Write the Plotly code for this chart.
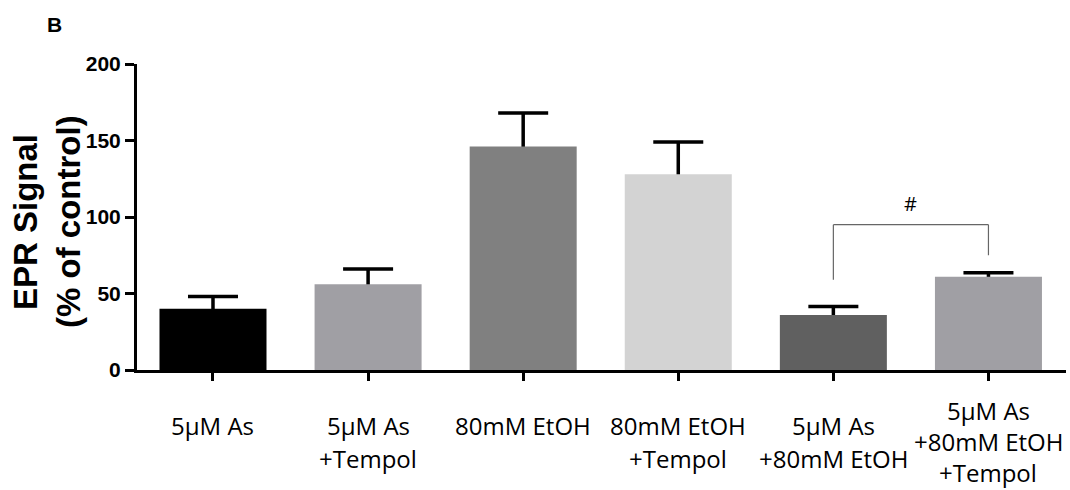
import plotly.graph_objects as go

categories = ["5µM As", "5µM As<br>+Tempol", "80mM EtOH", "80mM EtOH<br>+Tempol",
              "5µM As<br>+80mM EtOH", "5µM As<br>+80mM EtOH<br>+Tempol"]
values = [40, 56, 146, 128, 36, 61]
errors = [8, 10, 22, 21, 5.5, 2.5]
colors = ["#000000", "#a09fa4", "#808080", "#d3d3d3", "#606060", "#a09fa4"]
y_ticks = [0, 50, 100, 150, 200]

# significance bracket between groups 5 and 6
bracket_pair = (4, 5)
bracket_y = [59, 95, 75]  # left bottom, top, right bottom
bracket_label = "#"

x = list(range(len(categories)))
hide = 3  # start error stems slightly inside the bar so the lower cap is hidden

fig = go.Figure()
# error bars (upward only) on a transparent bar trace drawn beneath the visible bars
fig.add_trace(go.Bar(
    x=x, y=[v - hide for v in values], width=0.69,
    marker=dict(color="rgba(0,0,0,0)", line=dict(width=0)),
    error_y=dict(type="data", array=[e + hide for e in errors], arrayminus=[0] * len(errors),
                 symmetric=False, color="black", thickness=3.5, width=25),
    showlegend=False, hoverinfo="skip",
))
fig.add_trace(go.Bar(
    x=x, y=values, width=0.69,
    marker=dict(color=colors, line=dict(width=0)),
    showlegend=False,
))

# bracket
xl, xr = bracket_pair
lc = dict(color="#666666", width=1.2)
fig.add_shape(type="line", x0=xl, x1=xl, y0=bracket_y[0], y1=bracket_y[1], line=lc)
fig.add_shape(type="line", x0=xl, x1=xr, y0=bracket_y[1], y1=bracket_y[1], line=lc)
fig.add_shape(type="line", x0=xr, x1=xr, y0=bracket_y[1], y1=bracket_y[2], line=lc)
fig.add_annotation(x=(xl + xr) / 2, y=109, text=bracket_label, showarrow=False,
                   xanchor="center", yanchor="middle",
                   font=dict(family="Open Sans", size=20, color="black"))

# category labels (one annotation per line)
for i, lab in enumerate(categories):
    lines = lab.split("<br>")
    if len(lines) <= 2:
        start, step = 425, 33
    else:
        start, step = 410, 31
    for j, ln in enumerate(lines):
        pix = start + step * j
        fig.add_annotation(x=i, xref="x", y=0, yref="paper", xanchor="center", yanchor="middle",
                           yshift=-(pix - 370), text=ln, showarrow=False,
                           font=dict(family="Open Sans", size=24, color="black"))

# y-axis title (two lines)
fig.add_annotation(x=0, xref="paper", xshift=-(137 - 25), y=0.5, yref="paper", yshift=-5,
                   xanchor="center", yanchor="middle",
                   text="<b>EPR Signal</b>", textangle=-90, showarrow=False,
                   font=dict(family="Liberation Sans, Arial", size=33, color="black"))
fig.add_annotation(x=0, xref="paper", xshift=-(137 - 68), y=0.5, yref="paper", yshift=-5,
                   xanchor="center", yanchor="middle",
                   text="<b>(% of control)</b>", textangle=-90, showarrow=False,
                   font=dict(family="Liberation Sans, Arial", size=33, color="black"))

# panel letter
fig.add_annotation(x=(54 - 137) / 929, y=(370 - 24) / 306, xref="paper", yref="paper",
                   xanchor="center", yanchor="middle",
                   text="<b>B</b>", showarrow=False,
                   font=dict(family="Liberation Sans, Arial", size=21, color="black"))

fig.update_layout(
    width=1070, height=490,
    margin=dict(l=137, r=4, t=64, b=120),
    plot_bgcolor="white", paper_bgcolor="white",
    barmode="overlay",
    xaxis=dict(range=[-0.49, 5.5], tickvals=x, showticklabels=False,
               ticks="outside", ticklen=8, tickwidth=3, tickcolor="black",
               showline=True, linewidth=3, linecolor="black", showgrid=False,
               zeroline=False, fixedrange=True),
    yaxis=dict(range=[0, 200], tickvals=y_ticks, ticks="outside", ticklen=9, tickwidth=3,
               tickcolor="black", showline=True, linewidth=3, linecolor="black",
               showgrid=False, zeroline=False,
               tickfont=dict(family="Liberation Sans, Arial", size=21, color="black", weight="bold")),
)

fig.write_html("out.html")
